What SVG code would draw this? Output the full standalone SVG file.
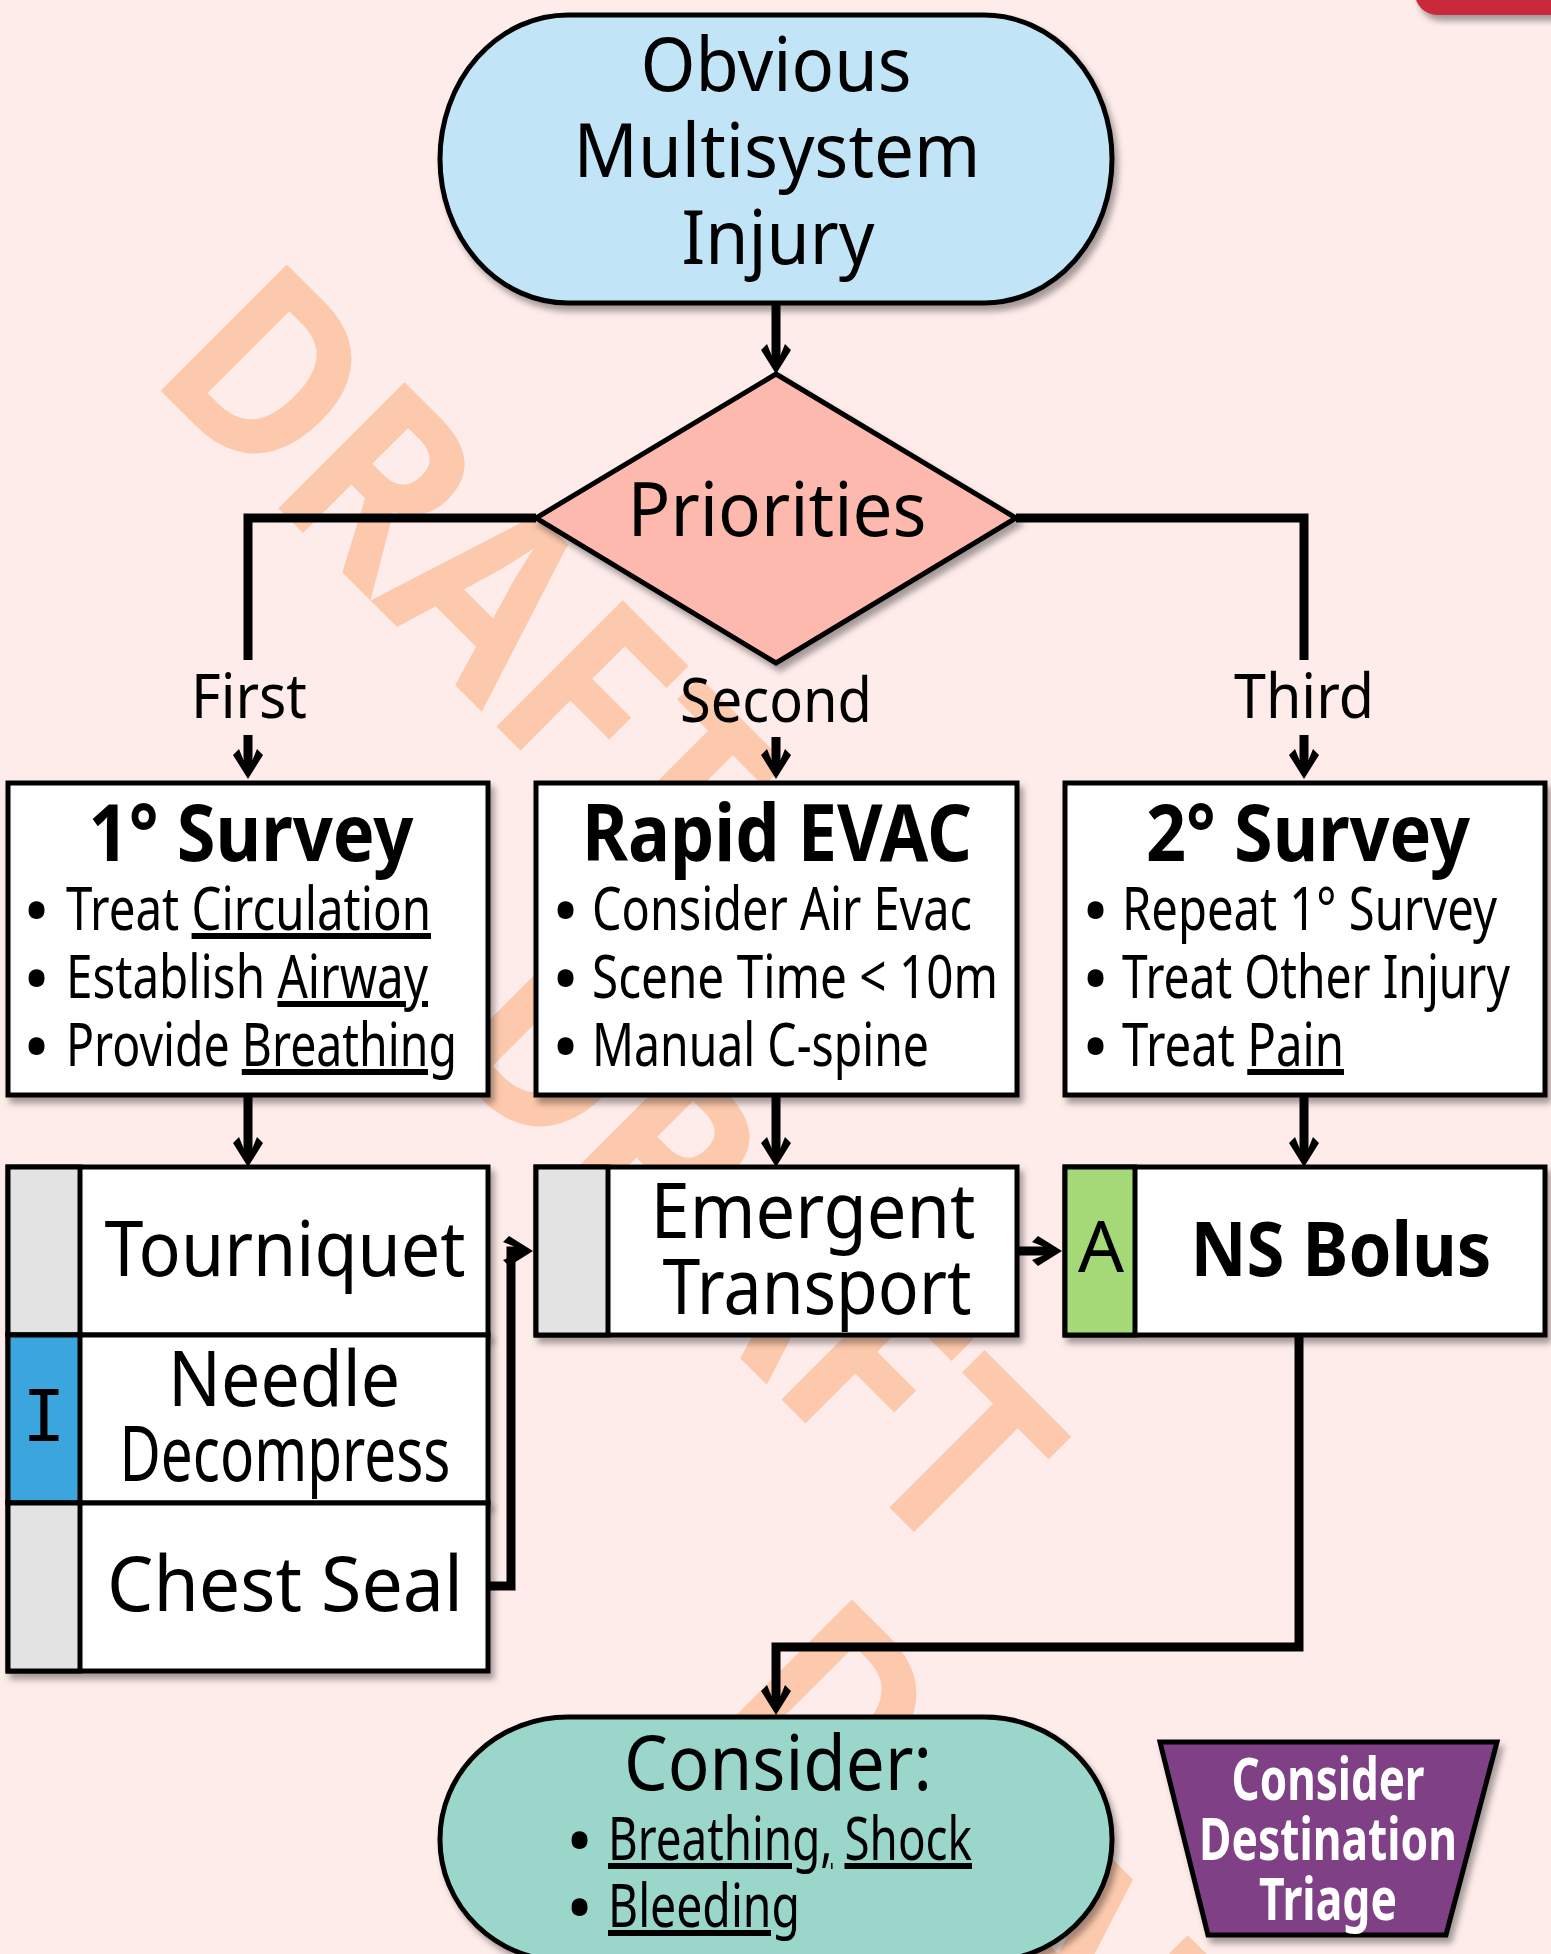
<svg xmlns="http://www.w3.org/2000/svg" width="1551" height="1954" viewBox="0 0 1551 1954">
<defs>
<style>
.t{font-family:"Noto Sans","Open Sans","DejaVu Sans",sans-serif;fill:#000}
.b{font-weight:bold}
.bl{font-family:"Noto Sans","Open Sans","DejaVu Sans",sans-serif;font-size:72px;fill:#000}
.n{stroke:#000;stroke-width:5}
.c{fill:none;stroke:#000;stroke-width:9;stroke-linejoin:miter;stroke-linecap:butt}
.u{text-decoration:underline;text-decoration-thickness:4px}
.wm{font-family:"Noto Sans","DejaVu Sans",sans-serif;font-weight:bold;font-size:250px;fill:#fdc9ac}
</style>
<filter id="sh" x="-10%" y="-10%" width="130%" height="130%">
<feDropShadow dx="4" dy="6" stdDeviation="3" flood-color="#000" flood-opacity="0.35"/>
</filter>
<marker id="ah" markerUnits="userSpaceOnUse" orient="auto" viewBox="-25 -20 40 40" markerWidth="40" markerHeight="40" refX="0" refY="0">
<path d="M10,0 L-14,-15 L-20,-9 L-9,-4.5 L-9,4.5 L-20,9 L-14,15 Z" fill="#000"/>
</marker>
</defs>
<rect x="0" y="0" width="1551" height="1954" fill="#feecea"/>
<g id="watermark">
<text class="wm" transform="translate(147,377) rotate(45)" textLength="730" lengthAdjust="spacingAndGlyphs">DRAFT</text>
<text class="wm" transform="translate(432,1050) rotate(45)" textLength="730" lengthAdjust="spacingAndGlyphs">DRAFT</text>
<text class="wm" transform="translate(712,1712) rotate(45)" textLength="730" lengthAdjust="spacingAndGlyphs">DRAFT</text>
</g>
<g id="badge"><rect x="1415" y="-40" width="200" height="55" rx="22" fill="#c92b3a" filter="url(#sh)"/></g>

<g id="connectors">
<path class="c" d="M776,303 V364" marker-end="url(#ah)"/>
<path class="c" d="M536,518 H248 V660"/>
<path class="c" d="M1016,518 H1304 V660"/>
<path class="c" d="M248,735 V769" marker-end="url(#ah)"/>
<path class="c" d="M776,737 V769" marker-end="url(#ah)"/>
<path class="c" d="M1304,735 V769" marker-end="url(#ah)"/>
<path class="c" d="M248,1095 V1157" marker-end="url(#ah)"/>
<path class="c" d="M776,1095 V1157" marker-end="url(#ah)"/>
<path class="c" d="M1304,1095 V1157" marker-end="url(#ah)"/>
<path class="c" d="M490,1586 H511 V1251 H523" marker-end="url(#ah)"/>
<path class="c" d="M1017,1251 H1052" marker-end="url(#ah)"/>
<path class="c" d="M1299,1335 V1647 H776 V1705" marker-end="url(#ah)"/>
<text class="t" x="249" y="718" font-size="62" text-anchor="middle" textLength="116" lengthAdjust="spacingAndGlyphs">First</text>
<text class="t" x="776" y="722" font-size="62" text-anchor="middle" textLength="192" lengthAdjust="spacingAndGlyphs">Second</text>
<text class="t" x="1304" y="718" font-size="62" text-anchor="middle" textLength="140" lengthAdjust="spacingAndGlyphs">Third</text>
</g>

<g id="start">
<rect class="n" x="440" y="15" width="672" height="288" rx="128" ry="144" fill="#c1e4f6" filter="url(#sh)"/>
<text class="t" x="776" y="91" font-size="75" text-anchor="middle" textLength="271" lengthAdjust="spacingAndGlyphs">Obvious</text>
<text class="t" x="777" y="177" font-size="75" text-anchor="middle" textLength="407" lengthAdjust="spacingAndGlyphs">Multisystem</text>
<text class="t" x="778" y="264" font-size="75" text-anchor="middle" textLength="193" lengthAdjust="spacingAndGlyphs">Injury</text>
</g>

<g id="priorities">
<polygon class="n" points="776,374 1016,518 776,663 536,518" fill="#feb9ae" filter="url(#sh)"/>
<text class="t" x="777" y="536" font-size="75" text-anchor="middle" textLength="299" lengthAdjust="spacingAndGlyphs">Priorities</text>
</g>

<g id="survey1">
<rect class="n" x="8" y="783" width="480" height="312" fill="#fff" filter="url(#sh)"/>
<text class="t b" x="251" y="861" font-size="78" text-anchor="middle" textLength="325" lengthAdjust="spacingAndGlyphs">1° Survey</text>
<text class="bl" x="23" y="936">•</text>
<text class="bl" x="23" y="1004">•</text>
<text class="bl" x="23" y="1072">•</text>
<text class="t" x="66" y="930" font-size="60" textLength="365" lengthAdjust="spacingAndGlyphs">Treat <tspan class="u">Circulation</tspan></text>
<text class="t" x="66" y="998" font-size="60" textLength="362" lengthAdjust="spacingAndGlyphs">Establish <tspan class="u">Airway</tspan></text>
<text class="t" x="66" y="1066" font-size="60" textLength="391" lengthAdjust="spacingAndGlyphs">Provide <tspan class="u">Breathing</tspan></text>
</g>

<g id="rapid-evac">
<rect class="n" x="536" y="783" width="481" height="312" fill="#fff" filter="url(#sh)"/>
<text class="t b" x="777" y="861" font-size="78" text-anchor="middle" textLength="390" lengthAdjust="spacingAndGlyphs">Rapid EVAC</text>
<text class="bl" x="552" y="936">•</text>
<text class="bl" x="552" y="1004">•</text>
<text class="bl" x="552" y="1072">•</text>
<text class="t" x="592" y="930" font-size="60" textLength="380" lengthAdjust="spacingAndGlyphs">Consider Air Evac</text>
<text class="t" x="592" y="998" font-size="60" textLength="406" lengthAdjust="spacingAndGlyphs">Scene Time &lt; 10m</text>
<text class="t" x="592" y="1066" font-size="60" textLength="337" lengthAdjust="spacingAndGlyphs">Manual C-spine</text>
</g>

<g id="survey2">
<rect class="n" x="1065" y="783" width="480" height="312" fill="#fff" filter="url(#sh)"/>
<text class="t b" x="1308" y="861" font-size="78" text-anchor="middle" textLength="324" lengthAdjust="spacingAndGlyphs">2° Survey</text>
<text class="bl" x="1082" y="936">•</text>
<text class="bl" x="1082" y="1004">•</text>
<text class="bl" x="1082" y="1072">•</text>
<text class="t" x="1122" y="930" font-size="60" textLength="375" lengthAdjust="spacingAndGlyphs">Repeat 1° Survey</text>
<text class="t" x="1122" y="998" font-size="60" textLength="388" lengthAdjust="spacingAndGlyphs">Treat Other Injury</text>
<text class="t" x="1122" y="1066" font-size="60" textLength="222" lengthAdjust="spacingAndGlyphs">Treat <tspan class="u">Pain</tspan></text>
</g>

<g id="tourniquet">
<rect class="n" x="8" y="1167" width="480" height="168" fill="#fff" filter="url(#sh)"/>
<rect class="n" x="8" y="1167" width="72" height="168" fill="#e3e3e3"/>
<text class="t" x="285" y="1276" font-size="76" text-anchor="middle" textLength="361" lengthAdjust="spacingAndGlyphs">Tourniquet</text>
</g>

<g id="needle-decompress">
<rect class="n" x="8" y="1335" width="480" height="168" fill="#fff" filter="url(#sh)"/>
<rect class="n" x="8" y="1335" width="72" height="168" fill="#3ba6de"/>
<text x="44" y="1441" font-family="'DejaVu Sans Mono','Liberation Mono',monospace" font-size="72" text-anchor="middle" fill="#000">I</text>
<text class="t" x="284" y="1406" font-size="76" text-anchor="middle" textLength="232" lengthAdjust="spacingAndGlyphs">Needle</text>
<text class="t" x="285" y="1481" font-size="76" text-anchor="middle" textLength="331" lengthAdjust="spacingAndGlyphs">Decompress</text>
</g>

<g id="chest-seal">
<rect class="n" x="8" y="1503" width="480" height="168" fill="#fff" filter="url(#sh)"/>
<rect class="n" x="8" y="1503" width="72" height="168" fill="#e3e3e3"/>
<text class="t" x="285" y="1611" font-size="76" text-anchor="middle" textLength="356" lengthAdjust="spacingAndGlyphs">Chest Seal</text>
</g>

<g id="emergent-transport">
<rect class="n" x="536" y="1167" width="481" height="168" fill="#fff" filter="url(#sh)"/>
<rect class="n" x="536" y="1167" width="72" height="168" fill="#e3e3e3"/>
<text class="t" x="813" y="1238" font-size="76" text-anchor="middle" textLength="325" lengthAdjust="spacingAndGlyphs">Emergent</text>
<text class="t" x="817" y="1314" font-size="76" text-anchor="middle" textLength="309" lengthAdjust="spacingAndGlyphs">Transport</text>
</g>

<g id="ns-bolus">
<rect class="n" x="1065" y="1167" width="480" height="168" fill="#fff" filter="url(#sh)"/>
<rect class="n" x="1065" y="1167" width="70" height="168" fill="#a5d877"/>
<text class="t" x="1101" y="1272" font-size="72" text-anchor="middle">A</text>
<text class="t b" x="1341" y="1276" font-size="76" text-anchor="middle" textLength="301" lengthAdjust="spacingAndGlyphs">NS Bolus</text>
</g>

<g id="consider">
<rect class="n" x="440" y="1717" width="672" height="245" rx="128" ry="122" fill="#9bd6cb" filter="url(#sh)"/>
<text class="t" x="778" y="1790" font-size="76" text-anchor="middle" textLength="308" lengthAdjust="spacingAndGlyphs">Consider:</text>
<text class="bl" x="566" y="1866">•</text>
<text class="bl" x="566" y="1933">•</text>
<text class="t" x="608" y="1860" font-size="60" textLength="364" lengthAdjust="spacingAndGlyphs"><tspan class="u">Breathing,</tspan> <tspan class="u">Shock</tspan></text>
<text class="t" x="608" y="1927" font-size="60" textLength="192" lengthAdjust="spacingAndGlyphs"><tspan class="u">Bleeding</tspan></text>
</g>

<g id="destination-triage">
<polygon class="n" points="1160,1742 1497,1742 1446,1935 1208,1935" fill="#7f3f86" filter="url(#sh)"/>
<text class="t b" x="1328" y="1800" font-size="60" text-anchor="middle" style="fill:#fff" textLength="193" lengthAdjust="spacingAndGlyphs">Consider</text>
<text class="t b" x="1328" y="1860" font-size="60" text-anchor="middle" style="fill:#fff" textLength="258" lengthAdjust="spacingAndGlyphs">Destination</text>
<text class="t b" x="1328" y="1920" font-size="60" text-anchor="middle" style="fill:#fff" textLength="138" lengthAdjust="spacingAndGlyphs">Triage</text>
</g>
</svg>
